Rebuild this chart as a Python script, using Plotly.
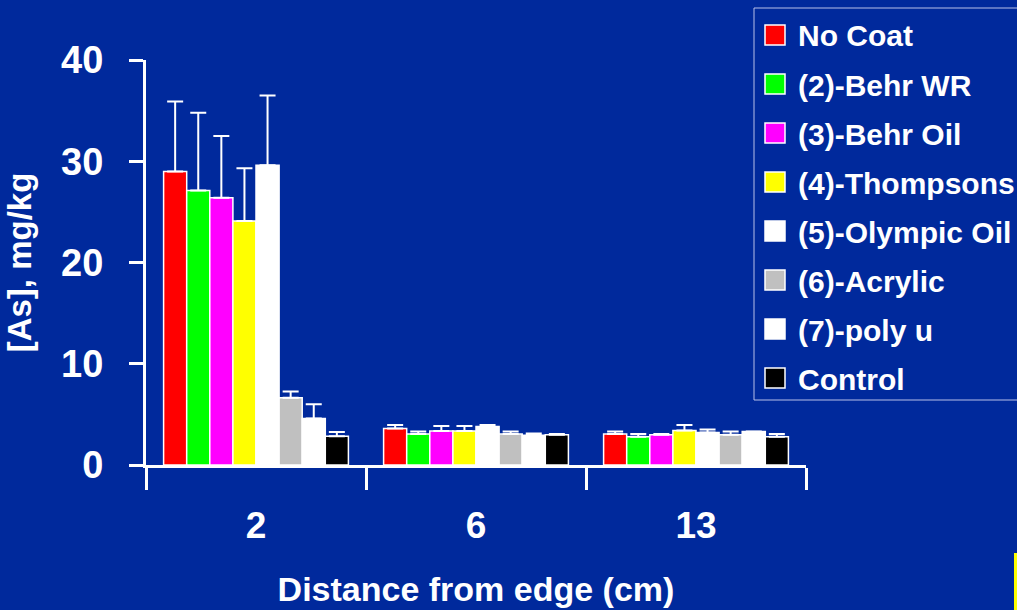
import plotly.graph_objects as go

# ---- data ----
categories = ["2", "6", "13"]
series_names = ["No Coat", "(2)-Behr WR", "(3)-Behr Oil", "(4)-Thompsons",
                "(5)-Olympic Oil", "(6)-Acrylic", "(7)-poly u", "Control"]
series_colors = ["#FF0000", "#00FF00", "#FF00FF", "#FFFF00",
                 "#FFFFFF", "#C0C0C0", "#FFFFFF", "#000000"]
no_coat = [29.0, 3.6, 3.05]
behr_wr = [27.1, 3.05, 2.8]
behr_oil = [26.4, 3.35, 3.0]
thompsons = [24.1, 3.35, 3.4]
olympic_oil = [29.6, 3.8, 3.2]
acrylic = [6.65, 3.05, 3.0]
poly_u = [4.6, 2.95, 3.3]
control = [2.85, 3.0, 2.8]

no_coat_err = [6.9, 0.35, 0.25]
behr_wr_err = [7.7, 0.25, 0.25]
behr_oil_err = [6.1, 0.5, 0.05]
thompsons_err = [5.2, 0.5, 0.55]
olympic_oil_err = [6.9, 0.15, 0.3]
acrylic_err = [0.6, 0.25, 0.3]
poly_u_err = [1.4, 0.15, 0.0]
control_err = [0.4, 0.05, 0.25]

series_values = [no_coat, behr_wr, behr_oil, thompsons, olympic_oil, acrylic, poly_u, control]
series_errors = [no_coat_err, behr_wr_err, behr_oil_err, thompsons_err,
                 olympic_oil_err, acrylic_err, poly_u_err, control_err]

y_ticks = [0, 10, 20, 30, 40]

BG = "#00299C"
FONT = "Liberation Sans, Arial, sans-serif"

W, H = 1017, 610
L, R, T, B = 146, 211, 60, 145
PW, PH = W - L - R, H - T - B


def px(x):
    return (x - L) / PW


def py(y):
    return (H - B - y) / PH


fig = go.Figure()
for name, color, vals, errs in zip(series_names, series_colors, series_values, series_errors):
    fig.add_trace(go.Bar(
        x=categories, y=vals, name=name,
        marker=dict(color=color, line=dict(color="white", width=1.5)),
        error_y=dict(type="data", array=errs, arrayminus=[0] * len(errs),
                     symmetric=False, color="white", thickness=2, width=8),
        showlegend=False,
    ))

shapes = []
annotations = []
# legend box
shapes.append(dict(type="rect", xref="paper", yref="paper",
                   x0=px(754), x1=px(1040), y0=py(400), y1=py(8),
                   line=dict(color="#B8C0E8", width=1), fillcolor="rgba(0,0,0,0)"))
for i, (name, color) in enumerate(zip(series_names, series_colors)):
    cy = 35 + 49 * i
    shapes.append(dict(type="rect", xref="paper", yref="paper",
                       x0=px(765), x1=px(785), y0=py(cy + 10), y1=py(cy - 10),
                       line=dict(color="white", width=1.5), fillcolor=color))
    annotations.append(dict(xref="paper", yref="paper", x=px(796), y=py(cy + 1),
                            xanchor="left", yanchor="middle", showarrow=False,
                            text=name,
                            font=dict(family=FONT, size=30, color="white", weight="bold")))
# small yellow edge artifact
shapes.append(dict(type="rect", xref="paper", yref="paper",
                   x0=px(1014), x1=px(1020), y0=py(620), y1=py(553),
                   line=dict(width=0), fillcolor="#FFFF00"))

fig.update_layout(
    width=W, height=H,
    margin=dict(l=L, r=R, t=T, b=B, pad=0, autoexpand=False),
    paper_bgcolor=BG, plot_bgcolor=BG,
    barmode="group", bargap=0.16, bargroupgap=0,
    shapes=shapes, annotations=annotations,
    xaxis=dict(
        type="category", range=[-0.5, 2.5], automargin=False,
        showline=True, linecolor="white", linewidth=3,
        ticks="outside", tickson="boundaries", ticklen=22, tickwidth=3, tickcolor="white",
        showgrid=False, zeroline=False,
        tickfont=dict(family=FONT, size=37, color="white", weight="bold"),
        ticklabelstandoff=26,
        title=dict(text="Distance from edge (cm)", standoff=32,
                   font=dict(family=FONT, size=34, color="white", weight="bold")),
    ),
    yaxis=dict(
        range=[0, 40], tickvals=y_ticks, automargin=False,
        showline=True, linecolor="white", linewidth=3,
        ticks="outside", ticklen=14, tickwidth=3, tickcolor="white",
        showgrid=False, zeroline=False,
        tickfont=dict(family=FONT, size=38, color="white", weight="bold"),
        ticklabelstandoff=18,
        title=dict(text="[As], mg/kg", standoff=20,
                   font=dict(family=FONT, size=33, color="white", weight="bold")),
    ),
)

fig.write_html("out.html")
